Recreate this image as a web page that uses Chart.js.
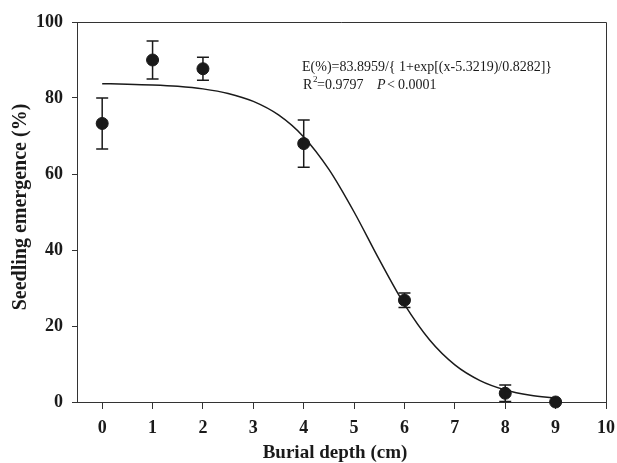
<!DOCTYPE html>
<html>
<head>
<meta charset="utf-8">
<script src="https://cdn.jsdelivr.net/npm/chart.js@4.4.1/dist/chart.umd.min.js"></script>
<style>
  html, body { margin: 0; padding: 0; background: #fff; }
  #wrap { width: 617px; height: 463px; position: relative; }
</style>
</head>
<body>
<div id="wrap"><canvas id="chart"></canvas></div>
<script>
// observed means and error bars
const depths = [0, 1, 2, 4, 6, 8, 9];
const emergence = [73.3, 90.0, 87.7, 68.0, 26.8, 2.3, 0];
const errBars = [6.7, 5.0, 3.0, 6.2, 1.9, 2.2, 0];

// fitted logistic curve
const curveX = [0, 0.5, 1, 1.5, 2, 2.5, 3, 3.5, 4, 4.5, 5, 5.5, 6, 6.5, 7, 7.5, 8, 8.5, 9];
const curveY = [83.76, 83.65, 83.44, 83.07, 82.40, 81.21, 79.10, 75.53, 69.76, 61.21, 50.00,
  37.45, 25.67, 16.30, 9.77, 5.64, 3.18, 1.77, 0.98];

const xTicks = [0, 1, 2, 3, 4, 5, 6, 7, 8, 9, 10];
const yTicks = [0, 20, 40, 60, 80, 100];

const SERIF = '"Liberation Serif", "Times New Roman", serif';
const INK = '#1a1a1a';

// error bars with caps
const errorBars = {
  id: 'errorBars',
  afterDatasetsDraw(chart) {
    const { ctx, scales: { x, y } } = chart;
    ctx.save();
    ctx.strokeStyle = INK;
    ctx.lineWidth = 1.5;
    depths.forEach((d, i) => {
      if (!errBars[i]) return;
      const px = x.getPixelForValue(d);
      const top = y.getPixelForValue(emergence[i] + errBars[i]);
      const bot = y.getPixelForValue(Math.max(0, emergence[i] - errBars[i]));
      ctx.beginPath();
      ctx.moveTo(px, top); ctx.lineTo(px, bot);
      ctx.moveTo(px - 6, top); ctx.lineTo(px + 6, top);
      ctx.moveTo(px - 6, bot); ctx.lineTo(px + 6, bot);
      ctx.stroke();
    });
    ctx.restore();
  }
};

// frame, axis titles and the fit equation
const labels = {
  id: 'labels',
  afterDraw(chart) {
    const { ctx, chartArea: a } = chart;
    ctx.save();
    ctx.strokeStyle = '#333';
    ctx.lineWidth = 1;
    ctx.beginPath();
    ctx.moveTo(a.left, a.top + 0.5); ctx.lineTo(a.right + 0.5, a.top + 0.5);
    ctx.lineTo(a.right + 0.5, a.bottom);
    ctx.stroke();

    ctx.fillStyle = INK;
    ctx.textBaseline = 'alphabetic';
    ctx.textAlign = 'center';
    ctx.font = 'bold 19px ' + SERIF;
    ctx.fillText('Burial depth (cm)', 335, 458);

    ctx.save();
    ctx.translate(26, 207);
    ctx.rotate(-Math.PI / 2);
    ctx.font = 'bold 20px ' + SERIF;
    ctx.fillText('Seedling emergence (%)', 0, 0);
    ctx.restore();

    ctx.textAlign = 'left';
    ctx.font = '14px ' + SERIF;
    ctx.fillText('E(%)=83.8959/{ 1+exp[(x-5.3219)/0.8282]}', 302, 71);
    ctx.fillText('R', 303, 89);
    ctx.font = '9px ' + SERIF;
    ctx.fillText('2', 313, 82);
    ctx.font = '14px ' + SERIF;
    ctx.fillText('=0.9797', 317, 89);
    ctx.font = 'italic 14px ' + SERIF;
    ctx.fillText('P', 377, 89);
    ctx.font = '14px ' + SERIF;
    ctx.fillText('<', 387, 89);
    ctx.fillText('0.0001', 398, 89);
    ctx.restore();
  }
};

new Chart(document.getElementById('chart'), {
  type: 'scatter',
  data: {
    datasets: [
      {
        label: 'fit',
        data: curveX.map((v, i) => ({ x: v, y: curveY[i] })),
        showLine: true,
        borderColor: INK,
        borderWidth: 1.5,
        pointRadius: 0,
        cubicInterpolationMode: 'monotone',
        clip: false
      },
      {
        label: 'observed',
        data: depths.map((v, i) => ({ x: v, y: emergence[i] })),
        backgroundColor: INK,
        borderColor: INK,
        pointRadius: 6,
        clip: false
      }
    ]
  },
  options: {
    responsive: true,
    maintainAspectRatio: false,
    animation: false,
    layout: { padding: { top: 22, right: 11, left: 0, bottom: 0 } },
    plugins: { legend: { display: false }, tooltip: { enabled: false } },
    scales: {
      x: {
        type: 'linear',
        min: -0.5,
        max: 10,
        afterBuildTicks: (axis) => { axis.ticks = xTicks.map(v => ({ value: v })); },
        afterFit: (axis) => {
          axis.height = 61;
          axis.paddingLeft = 0;
          axis.paddingRight = 0;
        },
        grid: { drawOnChartArea: false, tickLength: 7, color: '#333' },
        border: { color: '#333', width: 1 },
        ticks: {
          color: INK,
          padding: 9,
          maxRotation: 0,
          font: { family: SERIF, size: 18, weight: 'bold' }
        }
      },
      y: {
        min: 0,
        max: 100,
        afterBuildTicks: (axis) => { axis.ticks = yTicks.map(v => ({ value: v })); },
        afterFit: (axis) => {
          axis.width = 77;
          axis.paddingTop = 0;
          axis.paddingBottom = 0;
        },
        grid: { drawOnChartArea: false, tickLength: 5, color: '#333' },
        border: { color: '#333', width: 1 },
        ticks: {
          color: INK,
          padding: 9,
          font: { family: SERIF, size: 18, weight: 'bold' }
        }
      }
    }
  },
  plugins: [errorBars, labels]
});
</script>
</body>
</html>
